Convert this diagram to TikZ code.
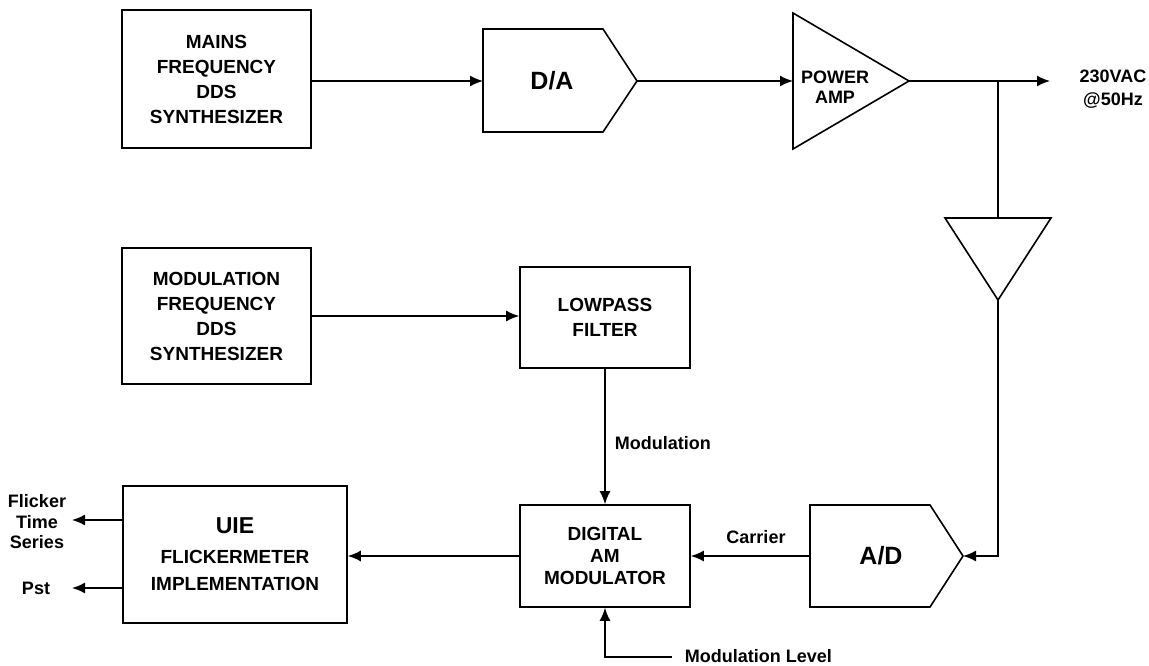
\documentclass[tikz,border=0pt]{standalone}
\usepackage{fontspec}
\setmainfont{Liberation Sans}
\usetikzlibrary{arrows.meta}

\begin{document}
\begin{tikzpicture}[x=1pt,y=-1pt,>={Latex[length=13pt,width=11pt]},line width=1.6pt,
    box/.style={draw,align=center,inner sep=0pt,font=\fontsize{19}{25}\selectfont\bfseries},
    lbl/.style={align=center,inner sep=0pt,font=\fontsize{18}{20.5}\selectfont\bfseries}]
  \useasboundingbox (0,0) rectangle (1149,666);
  % blocks
  \node[box,minimum width=189pt,minimum height=138pt] (mains) at (216.5,79) {MAINS\\FREQUENCY\\DDS\\SYNTHESIZER};
  \node[box,minimum width=189pt,minimum height=136pt] (modf) at (216.5,316) {MODULATION\\FREQUENCY\\DDS\\SYNTHESIZER};
  \node[box,minimum width=170pt,minimum height=101pt] (lp) at (605,317.5) {LOWPASS\\FILTER};
  \node[box,minimum width=170pt,minimum height=102pt,font=\fontsize{19}{22}\selectfont\bfseries] (dam) at (605,556) {DIGITAL\\AM\\MODULATOR};
  \node[box,minimum width=224pt,minimum height=137pt,font=\fontsize{19}{27}\selectfont\bfseries] (uie) at (235,554.5) {{\fontsize{23}{27}\selectfont UIE}\\[3pt]FLICKERMETER\\IMPLEMENTATION};
  % converters and amplifiers
  \draw (483,29) -- (603,29) -- (637,81) -- (603,132) -- (483,132) -- cycle;
  \node[lbl,font=\fontsize{25}{25}\selectfont\bfseries] (da) at (552,81) {D/A};
  \draw (810,505) -- (930,505) -- (963,556) -- (930,607) -- (810,607) -- cycle;
  \node[lbl,font=\fontsize{25}{25}\selectfont\bfseries] (ad) at (881,556) {A/D};
  \draw (793,13) -- (909,81) -- (793,149) -- cycle;
  \node[lbl,font=\fontsize{18}{20}\selectfont\bfseries] (pa) at (835,87) {POWER\\AMP};
  \draw (945,218) -- (1051,218) -- (998,300) -- cycle;
  \coordinate (da-in) at (483,81);
  \coordinate (da-out) at (637,81);
  \coordinate (pa-in) at (793,81);
  \coordinate (pa-out) at (909,81);
  \coordinate (tap) at (998,81);
  \coordinate (vout) at (1050,81);
  \coordinate (buf-in) at (998,218);
  \coordinate (buf-out) at (998,300);
  \coordinate (ad-in) at (963,556);
  \coordinate (ad-out) at (810,556);
  \coordinate (ml) at (672,657);
  \coordinate (fts) at (72,520);
  \coordinate (pst) at (72,588);
  % signal paths
  \draw[->] (mains.east |- da-in) -- (da-in);
  \draw[->] (da-out) -- (pa-in);
  \draw[->] (pa-out) -- (vout);
  \node[lbl,font=\fontsize{18}{23}\selectfont\bfseries] (vout-lbl) at (1113,89) {230VAC\\@50Hz};
  \draw (tap) -- (buf-in);
  \draw[->] (buf-out) |- (ad-in);
  \draw[->] (ad-out) -- (dam.east);
  \node[lbl] (car-lbl) at (756,537) {Carrier};
  \draw[->] (modf.east) -- (modf.east -| lp.west);
  \draw[->] (lp.south) -- (dam.north) node[lbl,anchor=west,pos=0.55,xshift=9pt] (mod-lbl) {Modulation};
  \draw[->] (ml) -| (dam.south);
  \node[lbl,anchor=west] (ml-lbl) at (684,656) {Modulation Level};
  \draw[->] (dam.west) -- (dam.west -| uie.east);
  \draw[->] (uie.west |- fts) -- (fts);
  \draw[->] (uie.west |- pst) -- (pst);
  \node[lbl] (fts-lbl) at (37,522) {Flicker\\Time\\Series};
  \node[lbl] (pst-lbl) at (36,588) {Pst};
\end{tikzpicture}
\end{document}
